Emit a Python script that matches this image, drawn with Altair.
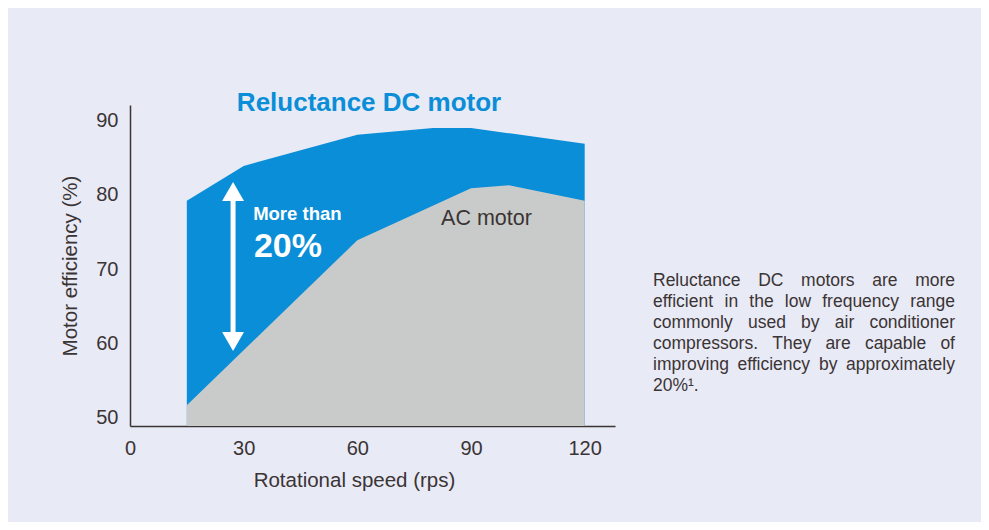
import altair as alt
import pandas as pd

# ---- data ----
speed_dc = [15, 30, 60, 80, 90, 120]
eff_dc = [79.2, 83.9, 88.1, 89.0, 89.0, 86.9]
speed_ac = [15, 60, 90, 100, 120]
eff_ac = [51.7, 73.9, 80.9, 81.3, 79.2]
x_ticks = [0, 30, 60, 90, 120]
y_ticks = [50, 60, 70, 80, 90]
para_lines = [
    "Reluctance DC motors are more",
    "efficient in the low frequency range",
    "commonly used by air conditioner",
    "compressors. They are capable of",
    "improving efficiency by approximately",
    "20%\u00b9.",
]

BG = "#E8EAF6"
BLUE = "#0A8ED8"
GREY = "#C9CBCA"
DARK = "#3B3434"
FONT = "Liberation Sans, Arial, Helvetica, sans-serif"

X0, X1 = 0, 128
Y0, Y1 = 48.9, 92.1
PW, PH = 485, 321

xs = alt.Scale(domain=[X0, X1], nice=False, zero=False)
ys = alt.Scale(domain=[Y0, Y1], nice=False, zero=False)

dc = pd.DataFrame({"speed": speed_dc, "eff": eff_dc})
ac = pd.DataFrame({"speed": speed_ac, "eff": eff_ac})

X = alt.X("speed:Q", scale=xs,
          axis=alt.Axis(values=x_ticks, title="Rotational speed (rps)", ticks=False, grid=False,
                        labelFontSize=20, labelPadding=12, labelFlush=False, titleFontSize=20.5,
                        titleFontWeight="normal", titlePadding=12, titleX=224, titleAlign="center",
                        domainColor=DARK, domainWidth=1.5, labelColor=DARK,
                        titleColor=DARK, labelFont=FONT, titleFont=FONT))
Y = alt.Y("eff:Q", scale=ys,
          axis=alt.Axis(values=y_ticks, title="Motor efficiency (%)", ticks=False, grid=False,
                        labelFontSize=20, labelPadding=12, labelFlush=False, titleFontSize=20.5,
                        titleFontWeight="normal", titlePadding=15, domainColor=DARK, domainWidth=1.5,
                        labelColor=DARK, titleColor=DARK, labelFont=FONT, titleFont=FONT))

area_dc = alt.Chart(dc).mark_area(color=BLUE, opacity=1).encode(x=X, y=Y, y2=alt.datum(Y0))
area_ac = alt.Chart(ac).mark_area(color=GREY, opacity=1).encode(x="speed:Q", y="eff:Q", y2=alt.datum(Y0))

# arrow
arrow_x = 27.2
shaft = alt.Chart(pd.DataFrame({"speed": [arrow_x], "eff": [80.46], "eff2": [60.27]})).mark_rule(
    color="white", strokeWidth=5).encode(x="speed:Q", y="eff:Q", y2="eff2:Q")
head_up = alt.Chart(pd.DataFrame({"speed": [arrow_x], "eff": [80.46]})).mark_point(
    shape="triangle-up", filled=True, color="white", opacity=1, size=480).encode(x="speed:Q", y="eff:Q")
head_dn = alt.Chart(pd.DataFrame({"speed": [arrow_x], "eff": [60.27]})).mark_point(
    shape="triangle-down", filled=True, color="white", opacity=1, size=480).encode(x="speed:Q", y="eff:Q")


def label(txt, x, y, size, color, weight="normal", align="left", data=None):
    df = data if data is not None else pd.DataFrame({"t": [txt], "speed": [x], "eff": [y]})
    return alt.Chart(df).mark_text(
        align=align, baseline="middle", fontSize=size, fontWeight=weight, color=color, font=FONT
    ).encode(x="speed:Q", y="eff:Q", text="t:N")


title = label("Reluctance DC motor", 28.2, 92.37, 26, BLUE, "bold")
more = label("More than", 32.5, 77.43, 18.5, "white", "bold")
pct = label("20%", 32.7, 72.99, 34, "white", "bold")
acl = label("AC motor", 82.1, 76.76, 21.5, DARK)

# ---- justified paragraph layout (pixel offsets from plot origin, converted to data units) ----
W = {c: 556 for c in "abdeghnopqu0123456789"}
W.update({"c": 500, "f": 278, "i": 222, "j": 222, "k": 500, "l": 222, "m": 833, "r": 333, "s": 500,
          "t": 278, "v": 500, "w": 722, "x": 500, "y": 500, "z": 500, " ": 278, ".": 278, ",": 278,
          "%": 889, "R": 722, "D": 722, "C": 722, "T": 611, "\u00b9": 333})
fs = 17.5
para_left, para_width, para_top, leading = 523, 302, 175.7, 21.1


def tw(s):
    return sum(W.get(c, 556) for c in s) / 1000 * fs


def to_data(px, py):
    return X0 + px * (X1 - X0) / PW, Y1 - py * (Y1 - Y0) / PH


left_rows, right_rows = [], []
for i, line in enumerate(para_lines):
    words = line.split(" ")
    py = para_top + i * leading
    if i < len(para_lines) - 1 and len(words) > 1:
        widths = [tw(w) for w in words]
        gap = (para_width - sum(widths)) / (len(words) - 1)
        px = para_left
        for j, (w, wd) in enumerate(zip(words, widths)):
            if j == len(words) - 1:
                dx, dy = to_data(para_left + para_width, py)
                right_rows.append({"t": w, "speed": dx, "eff": dy})
            else:
                dx, dy = to_data(px, py)
                left_rows.append({"t": w, "speed": dx, "eff": dy})
            px += wd + gap
    else:
        dx, dy = to_data(para_left, py)
        left_rows.append({"t": line, "speed": dx, "eff": dy})

para_l = label("", 0, 0, fs, DARK, data=pd.DataFrame(left_rows))
para_r = label("", 0, 0, fs, DARK, align="right", data=pd.DataFrame(right_rows))

chart = alt.layer(area_dc, area_ac, shaft, head_up, head_dn, title, more, pct, acl, para_l, para_r).properties(
    width=PW, height=PH,
    autosize=alt.AutoSizeParams(type="none"),
    padding={"left": 122, "top": 97, "right": 366, "bottom": 96},
    background=BG,
).configure_view(stroke=None)

chart.save("out.html", embed_options={"renderer": "svg", "actions": False})
